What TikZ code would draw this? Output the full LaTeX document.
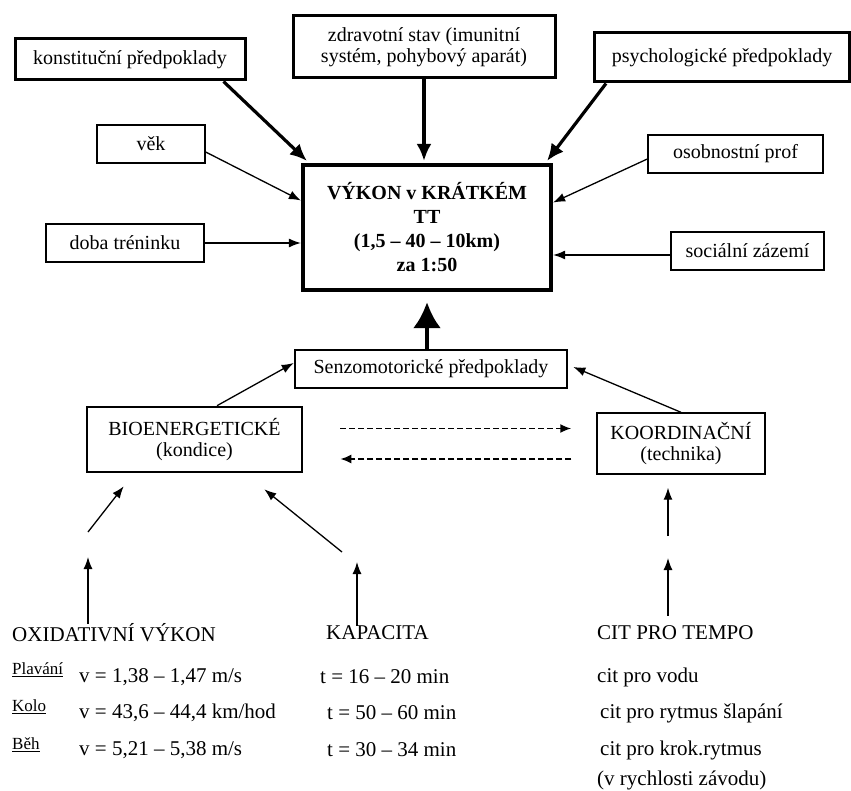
\documentclass[tikz,border=0pt]{standalone}
\usepackage{fontspec}
\setmainfont{Liberation Serif}
\usetikzlibrary{arrows.meta, positioning, calc}

\begin{document}
\begin{tikzpicture}[x=1pt,y=-1pt,
 every node/.style={font=\fontsize{20}{21}\selectfont,align=center,inner sep=0pt},
 box/.style={rectangle,draw,line width=1.4pt},
 hbox/.style={box,line width=3pt},
 mbox/.style={box,line width=2.6pt},
 mainbox/.style={box,line width=4.2pt,font=\fontsize{20}{24}\selectfont\bfseries},
 txt/.style={font=\fontsize{21}{23}\selectfont,anchor=west},
 sub/.style={font=\fontsize{17}{18}\selectfont,anchor=west},
 arr/.style={-{Latex[length=12pt,width=9pt]},line width=1.3pt},
 harr/.style={-{Latex[length=17pt,width=15pt]},line width=3.2pt},
 bigarr/.style={-{Latex[length=26pt,width=28pt]},line width=4.5pt},
 darr/.style={-{Latex[length=11pt,width=9pt]},line width=1.9pt,dash pattern=on 6pt off 3pt}]
\useasboundingbox (0,0) rectangle (851,791);
% upper factors
\node[hbox,minimum width=230pt,minimum height=41pt] (konst) at (130,59.5) {konstituční předpoklady};
\node[hbox,minimum width=262pt,minimum height=62pt] (zdrav) at (424,47) {zdravotní stav (imunitní\\systém, pohybový aparát)};
\node[hbox,minimum width=255pt,minimum height=49pt] (psych) at (722,57.5) {psychologické předpoklady};
\node[box,minimum width=108pt,minimum height=38pt] (vek) at (151,144) {věk};
\node[box,minimum width=175pt,minimum height=38pt] (osob) at (735.5,154) {osobnostní prof};
\node[box,minimum width=158pt,minimum height=38pt] (doba) at (125,243) {doba tréninku};
\node[box,minimum width=153pt,minimum height=38pt] (soc) at (747.5,251) {sociální zázemí};
\node[mainbox,minimum width=248pt,minimum height=125pt] (vykon) at (427,227.5) {VÝKON v KRÁTKÉM\\TT\\(1,5 – 40 – 10km)\\za 1:50};
% lower part
\node[mbox,minimum width=272pt,minimum height=38pt] (senzo) at (431,369) {Senzomotorické předpoklady};
\node[mbox,minimum width=215pt,minimum height=65pt] (bio) at (194.5,439.5) {BIOENERGETICKÉ\\(kondice)};
\node[box,minimum width=168pt,minimum height=61pt] (koord) at (681,443.5) {KOORDINAČNÍ\\(technika)};
% parameters
\node[txt] (oxid) at (12,633) {OXIDATIVNÍ VÝKON};
\node[sub] (plav) at (12,670) {\underline{Plavání}};
\node[txt] (plavv) at (79,677) {v = 1,38 – 1,47 m/s};
\node[sub] (kolo) at (12,707) {\underline{Kolo}};
\node[txt] (kolov) at (79,713) {v = 43,6 – 44,4 km/hod};
\node[sub] (beh) at (12,745) {\underline{Běh}};
\node[txt] (behv) at (79,750) {v = 5,21 – 5,38 m/s};
\node[txt] (kap) at (326,633) {KAPACITA};
\node[txt] (kap1) at (320,677) {t = 16 – 20 min};
\node[txt] (kap2) at (327,713) {t = 50 – 60 min};
\node[txt] (kap3) at (327,750) {t = 30 – 34 min};
\node[txt] (cit) at (597,633) {CIT PRO TEMPO};
\node[txt] (cit1) at (597,677) {cit pro vodu};
\node[txt] (cit2) at (600,713) {cit pro rytmus šlapání};
\node[txt] (cit3) at (600,750) {cit pro krok.rytmus};
\node[txt] (cit4) at (597,780) {(v rychlosti závodu)};
\coordinate (oxtip) at (88,557);
\coordinate (oxmid) at (88,532);
\coordinate (kaptip) at (357,562);
\coordinate (kapmid) at (342,552);
\coordinate (cittip) at (668,558);
\coordinate (citmid) at (668,536);
% arrows into the performance box
\draw[harr] ([xshift=-23pt]konst.south east) -- ([xshift=6pt,yshift=2pt]vykon.north west);
\draw[harr] (zdrav.south) -- ([yshift=2pt]vykon.north -| zdrav.south);
\draw[harr] ([xshift=13pt]psych.south west) -- ([xshift=-6pt,yshift=2pt]vykon.north east);
\draw[arr] ([yshift=-8pt]vek.east) -- ([yshift=27pt]vykon.west);
\draw[arr] (doba.east) -- (doba.east -| vykon.west);
\draw[arr] ([yshift=-5pt]osob.west) -- ([yshift=25pt]vykon.east);
\draw[arr] ([yshift=-4pt]soc.west) -- ([yshift=-4pt]soc.west -| vykon.east);
\draw[bigarr] (senzo.north -| vykon.south) -- ([yshift=-10pt]vykon.south);
\draw[arr] ([xshift=22.5pt]bio.north) -- ([yshift=6pt]senzo.west);
\draw[arr] (koord.north) -- ([xshift=5pt,yshift=2pt]senzo.east);
\draw[darr] ($(bio.east)+(37,-11)$) -- ($(koord.west)+(-25,-15)$);
\draw[darr] ($(koord.west)+(-25,15.5)$) -- ($(bio.east)+(37,19.5)$);
% arrows from the parameters
\draw[arr] (oxid.north -| oxtip) -- (oxtip);
\draw[arr] (oxmid) -- ([xshift=38pt,yshift=-13pt]bio.south west);
\draw[arr] (kap.north -| kaptip) -- (kaptip);
\draw[arr] (kapmid) -- ([xshift=-39pt,yshift=-16pt]bio.south east);
\draw[arr,shorten <=10pt] (cit.north -| cittip) -- (cittip);
\draw[arr] (citmid) -- ($(koord.south -| citmid)+(0,13)$);
\end{tikzpicture}
\end{document}
